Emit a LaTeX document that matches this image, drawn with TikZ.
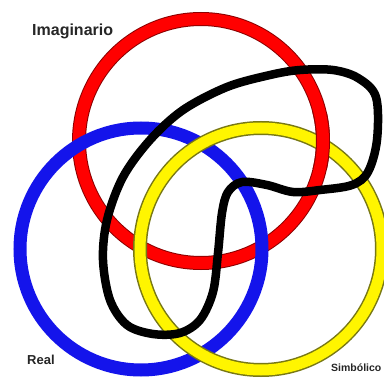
\documentclass[tikz,border=0pt]{standalone}
\usepackage{fontspec}
\setmainfont{Liberation Sans}
\begin{document}
\begin{tikzpicture}[x=1pt,y=-1pt]
\tikzset{
 redout/.style={draw=red!55!black, line width=14pt},
 redin/.style={draw=red, line width=12pt},
 blu/.style={draw={rgb,255:red,20;green,20;blue,235}, line width=13pt},
 yelout/.style={draw={rgb,255:red,120;green,120;blue,20}, line width=14pt},
 yelin/.style={draw={rgb,255:red,255;green,245;blue,0}, line width=11pt},
 knot/.style={draw=black, line width=8.5pt, line join=round},
 lbl/.style={font=\bfseries, text=black!85, inner sep=0pt, anchor=west}
}
\useasboundingbox (0,0) rectangle (384,380);
\clip (0,0) rectangle (384,380);
\fill[white] (0,0) rectangle (384,380);
\coordinate (cr) at (201,141);
\coordinate (cb) at (141,249);
\coordinate (cy) at (261,249);
% red
\draw[redout] (cr) circle[radius=122];
\draw[redin] (cr) circle[radius=122];
% blue
\draw[blu] (cb) circle[radius=121];
% yellow
\draw[yelout] (cy) circle[radius=121];
\draw[yelin] (cy) circle[radius=121];
% red over yellow at top right
\begin{scope}
\clip (300,112) rectangle (350,168);
\draw[redout] (cr) circle[radius=122];
\draw[redin] (cr) circle[radius=122];
\end{scope}
% black loop
\draw[knot] plot[smooth cycle, tension=0.55] coordinates {
(300,70) (333,70) (358,78) (376,97) (377,140) (368,172) (352,185) (320,190) (293,192)
(267,185) (242,182) (228,192) (222,213) (218,253) (213,292) (200,320) (180,333)
(153,334) (127,325) (110,300) (103,260) (107,220) (123,177) (150,140) (183,110)
(227,87) (270,75)};
% labels
\node[lbl, font=\bfseries\fontsize{16}{16}\selectfont] (imag) at (32,31) {Imaginario};
\node[lbl, font=\bfseries\fontsize{13}{13}\selectfont] (real) at (27,360) {Real};
\node[lbl, font=\bfseries\fontsize{10.5}{10.5}\selectfont] (simb) at (331,368) {Simbólico};
\end{tikzpicture}
\end{document}
